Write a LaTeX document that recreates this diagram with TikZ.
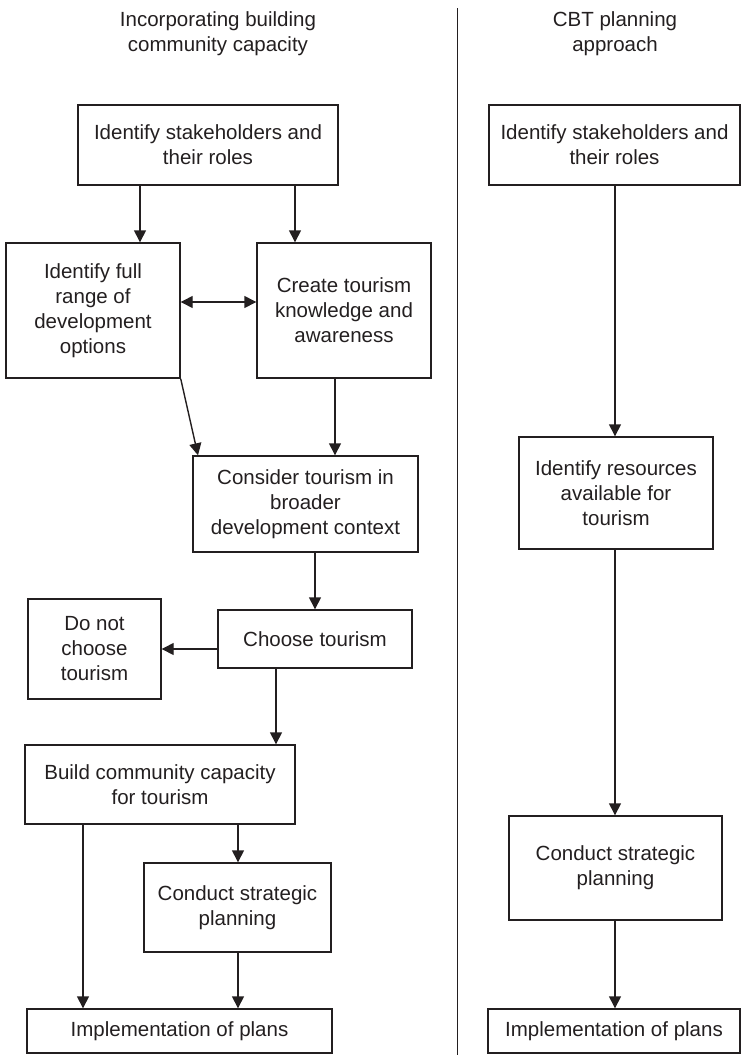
\documentclass[tikz,border=0pt]{standalone}
\usepackage{fontspec}
\setmainfont{Liberation Sans}
\usetikzlibrary{arrows.meta}
\definecolor{ink}{HTML}{231F20}
\tikzset{
  box/.style={draw=ink, line width=1.4pt, inner sep=0pt, align=center,
    text=ink, font=\fontsize{20.5}{25}\selectfont},
  title/.style={inner sep=0pt, align=center, text=ink,
    font=\fontsize{20.5}{25}\selectfont},
  arr/.style={draw=ink, line width=1.4pt, -{Triangle[length=12pt,width=12pt]}},
  dbl/.style={draw=ink, line width=1.4pt, {Triangle[length=12pt,width=12pt]}-{Triangle[length=12pt,width=12pt]}}
}
\begin{document}
\begin{tikzpicture}[x=1pt,y=-1pt]
\useasboundingbox (0,0) rectangle (741,1055);

% column headings and divider
\node[title] (tl) at (218,33.5) {Incorporating building\\community capacity};
\node[title] (tr) at (615,33.5) {CBT planning\\approach};
\draw[ink, line width=1.3pt] (457.5,8) -- (457.5,1055);

% left column: capacity-building approach
\node[box, minimum width=260pt, minimum height=80pt] (S1) at (208,145) {Identify stakeholders and\\their roles};
\node[box, minimum width=174pt, minimum height=135pt] (F) at (93,310.5) {Identify full\\range of\\development\\options};
\node[box, minimum width=174pt, minimum height=135pt] (C) at (344,310.5) {Create tourism\\knowledge and\\awareness};
\node[box, minimum width=225pt, minimum height=96pt] (Cons) at (305.5,504) {Consider tourism in\\broader\\development context};
\node[box, minimum width=194pt, minimum height=58pt] (Ch) at (315,639) {Choose tourism};
\node[box, minimum width=133pt, minimum height=100pt] (DN) at (94.5,649) {Do not\\choose\\tourism};
\node[box, minimum width=270pt, minimum height=79pt] (B) at (160,784.5) {Build community capacity\\for tourism};
\node[box, minimum width=187pt, minimum height=89pt] (SPL) at (237.5,907.5) {Conduct strategic\\planning};
\node[box, minimum width=305pt, minimum height=44pt] (IL) at (179.5,1031) {Implementation of plans};

% right column: CBT planning approach
\node[box, minimum width=251pt, minimum height=80pt] (S2) at (614.5,145) {Identify stakeholders and\\their roles};
\node[box, minimum width=194pt, minimum height=112pt] (R) at (616,493) {Identify resources\\available for\\tourism};
\node[box, minimum width=213pt, minimum height=104pt] (SPR) at (615.5,868) {Conduct strategic\\planning};
\node[box, minimum width=252pt, minimum height=44pt] (IR) at (614,1031) {Implementation of plans};

% left connectors
\draw[arr] (S1.south -| 140,0) -- (F.north -| 140,0);
\draw[arr] (S1.south -| 295,0) -- (C.north -| 295,0);
\draw[dbl] (F.east |- 0,302) -- (C.west |- 0,302);
\draw[arr] (F.south east) -- (Cons.north -| 198,0);
\draw[arr] (C.south -| 335,0) -- (Cons.north -| 335,0);
\draw[arr] (Cons.south -| 315,0) -- (Ch.north -| 315,0);
\draw[arr] (Ch.west |- 0,649) -- (DN.east |- 0,649);
\draw[arr] (Ch.south -| 276,0) -- (B.north -| 276,0);
\draw[arr] (B.south -| 83,0) -- (IL.north -| 83,0);
\draw[arr] (B.south -| 238,0) -- (SPL.north -| 238,0);
\draw[arr] (SPL.south -| 238,0) -- (IL.north -| 238,0);

% right connectors
\draw[arr] (S2.south -| 615,0) -- (R.north -| 615,0);
\draw[arr] (R.south -| 615,0) -- (SPR.north -| 615,0);
\draw[arr] (SPR.south -| 615,0) -- (IR.north -| 615,0);
\end{tikzpicture}
\end{document}
